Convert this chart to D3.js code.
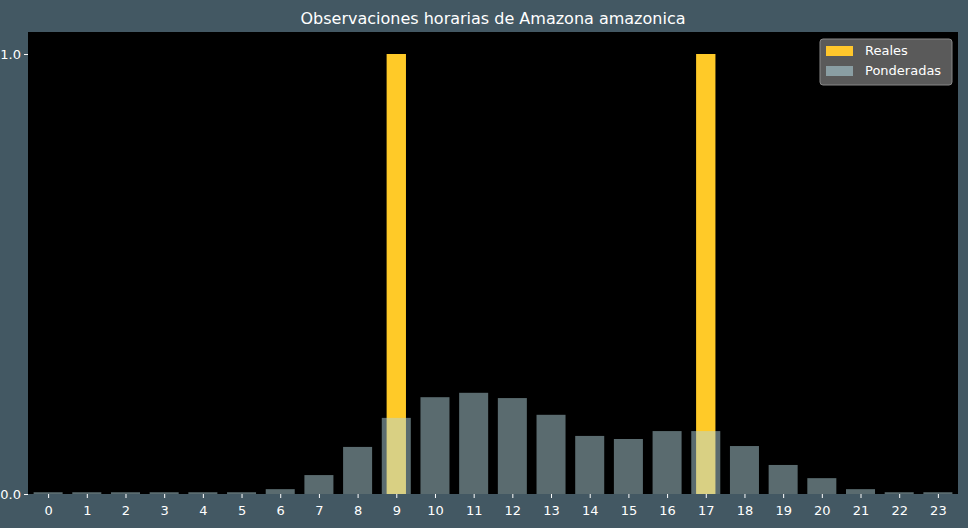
<!DOCTYPE html>
<html>
<head>
<meta charset="utf-8">
<script src="https://d3js.org/d3.v7.min.js"></script>
<style>
  body { margin: 0; background: #435863; }
  text { font-family: "DejaVu Sans", sans-serif; }
</style>
</head>
<body>
<svg id="chart" width="968" height="528"></svg>
<script>
const hours = d3.range(24);
const reales = [0,0,0,0,0,0,0,0,0,1,0,0,0,0,0,0,0,1,0,0,0,0,0,0];
const ponderadas = [0.004,0.004,0.004,0.004,0.004,0.004,0.011,0.043,0.107,0.173,0.22,0.23,0.218,0.18,0.132,0.125,0.143,0.143,0.109,0.066,0.036,0.011,0.004,0.004];
const yTicks = [0, 1];

const svg = d3.select("#chart");
const m = { left: 28, right: 958, top: 32, bottom: 494 };

const x = d3.scaleLinear().domain([-0.52, 23.52]).range([m.left, m.right]);
const y = d3.scaleLinear().domain([0, 1.05]).range([m.bottom, m.top]);

svg.append("rect").attr("x", m.left).attr("y", m.top)
  .attr("width", m.right - m.left).attr("height", m.bottom - m.top).attr("fill", "#000");

// barras reales
svg.selectAll(".real").data(hours).enter().append("rect")
  .attr("x", d => x(d - 0.25)).attr("width", x(0.5) - x(0))
  .attr("y", d => y(reales[d])).attr("height", d => y(0) - y(reales[d]))
  .attr("fill", "#ffca28");

// barras ponderadas
svg.selectAll(".pond").data(hours).enter().append("rect")
  .attr("x", d => x(d - 0.375)).attr("width", x(0.75) - x(0))
  .attr("y", d => y(ponderadas[d])).attr("height", d => y(0) - y(ponderadas[d]))
  .attr("fill", "#b4d6de").attr("fill-opacity", 0.5);

const xAxis = svg.append("g").attr("transform", `translate(0,${m.bottom})`)
  .call(d3.axisBottom(x).tickValues(hours).tickFormat(d3.format("d")).tickSize(4));
const yAxis = svg.append("g").attr("transform", `translate(${m.left},0)`)
  .call(d3.axisLeft(y).tickValues(yTicks).tickSize(4));
[xAxis, yAxis].forEach(g => {
  g.select(".domain").remove();
  g.selectAll("line").attr("stroke", "#fff");
  g.selectAll("text").attr("fill", "#fff").attr("font-size", 13);
});
xAxis.selectAll("text").attr("dy", "1.1em");

svg.append("text").attr("x", (m.left + m.right) / 2).attr("y", 24)
  .attr("text-anchor", "middle").attr("fill", "#fff").attr("font-size", 16)
  .text("Observaciones horarias de Amazona amazonica");

// leyenda
const lg = svg.append("g").attr("transform", "translate(820,39)");
lg.append("rect").attr("width", 132).attr("height", 46).attr("rx", 3)
  .attr("fill", "#5a5a5a").attr("stroke", "#888");
const items = [["Reales", "#ffc72c"], ["Ponderadas", "#8a9ea3"]];
items.forEach(([name, c], i) => {
  lg.append("rect").attr("x", 6).attr("y", 7 + i * 20).attr("width", 27).attr("height", 10).attr("fill", c);
  lg.append("text").attr("x", 45).attr("y", 16 + i * 20).attr("fill", "#fff")
    .attr("font-size", 13).text(name);
});
</script>
</body>
</html>
